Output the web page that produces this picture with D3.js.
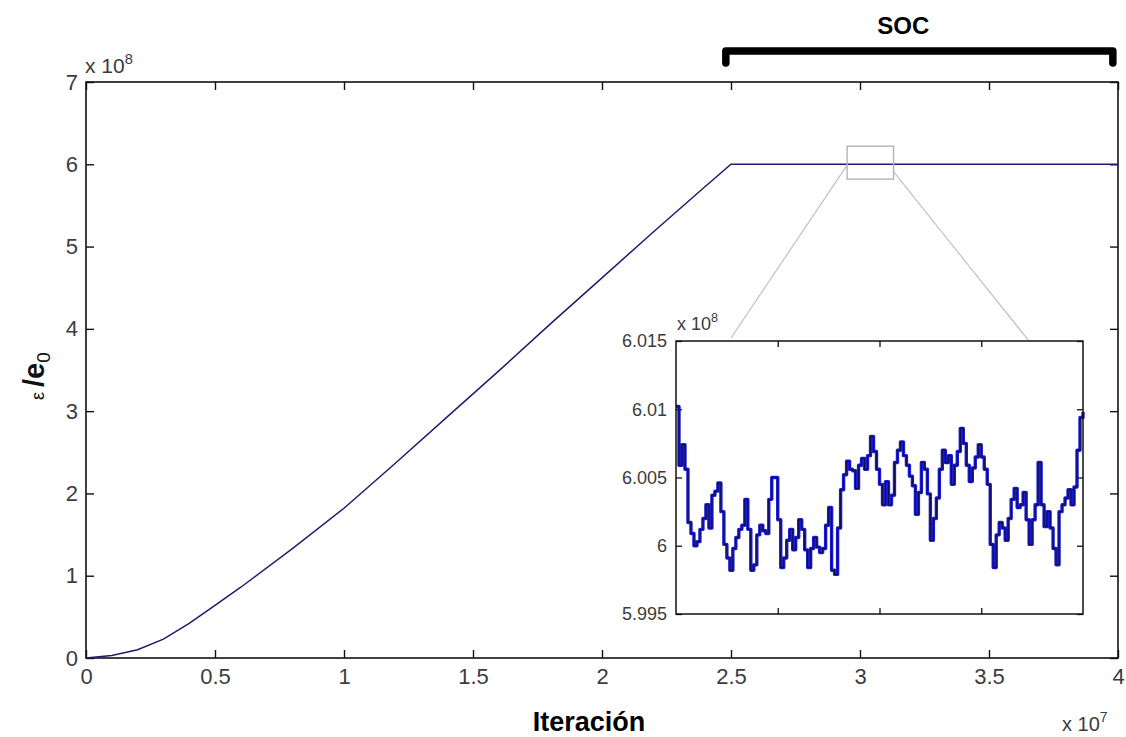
<!DOCTYPE html>
<html lang="es">
<head>
<meta charset="UTF-8">
<title>SOC - energía vs iteración</title>
<script src="https://cdnjs.cloudflare.com/ajax/libs/d3/7.8.5/d3.min.js"></script>
<style>
    body { margin: 0; background: #fff; }
    svg { display: block; font-family: "Liberation Sans", Arial, sans-serif; }
    .tick text { fill: #3c3c3c; }
</style>
</head>
<body>
<div id="chart"></div>
<script>
// main curve: iteration (x 1e7) vs energy (x 1e8)
const iterations = [0, 0.1, 0.2, 0.3, 0.4, 0.5, 0.6, 0.8, 1.0, 1.2, 1.4, 1.6, 1.8, 2.0, 2.2, 2.4, 2.5, 2.8, 3.1, 3.4, 3.7, 4.0];
const energy = [0, 0.03, 0.1, 0.23, 0.42, 0.64, 0.86, 1.33, 1.82, 2.37, 2.93, 3.49, 4.06, 4.62, 5.18, 5.73, 6.0, 6.0, 6.0, 6.0, 6.0, 6.0];

const xTicks = [0, 0.5, 1, 1.5, 2, 2.5, 3, 3.5, 4];
const yTicks = [0, 1, 2, 3, 4, 5, 6, 7];

// zoomed window in the SOC regime (x 1e8)
const insetStart = 2.95, insetEnd = 3.13;
const insetYTicks = [5.995, 6, 6.005, 6.01, 6.015];
const insetXTicks = [2.995, 3.04, 3.085];
const insetEnergy = [
    6.0102, 6.0059, 6.0074, 6.0056, 6.0017, 6.0009, 6.0000, 6.0003, 6.0012, 6.0020,
    6.0030, 6.0013, 6.0037, 6.0040, 6.0046, 6.0025, 6.0001, 5.9991, 5.9982, 5.9998,
    6.0006, 6.0012, 6.0015, 6.0034, 6.0012, 5.9982, 5.9986, 6.0008, 6.0015, 6.0011,
    6.0009, 6.0034, 6.0050, 6.0050, 6.0019, 5.9984, 5.9991, 6.0004, 6.0012, 5.9997,
    6.0006, 6.0019, 6.0012, 5.9997, 5.9984, 5.9998, 6.0006, 5.9999, 5.9995, 5.9998,
    6.0015, 6.0028, 5.9982, 5.9979, 6.0013, 6.0041, 6.0052, 6.0062, 6.0056, 6.0055,
    6.0042, 6.0059, 6.0064, 6.0056, 6.0066, 6.0080, 6.0069, 6.0056, 6.0045, 6.0030,
    6.0047, 6.0030, 6.0037, 6.0061, 6.0070, 6.0076, 6.0066, 6.0059, 6.0051, 6.0044,
    6.0023, 6.0039, 6.0061, 6.0056, 6.0038, 6.0004, 6.0020, 6.0035, 6.0056, 6.0070,
    6.0061, 6.0066, 6.0045, 6.0059, 6.0069, 6.0086, 6.0075, 6.0059, 6.0047, 6.0057,
    6.0065, 6.0074, 6.0065, 6.0056, 6.0045, 6.0001, 5.9984, 6.0008, 6.0017, 6.0013,
    6.0004, 6.0020, 6.0034, 6.0042, 6.0028, 6.0030, 6.0039, 6.0019, 6.0001, 6.0019,
    6.0030, 6.0061, 6.0030, 6.0014, 6.0025, 6.0013, 5.9998, 5.9986, 6.0025, 6.0030,
    6.0035, 6.0041, 6.0030, 6.0043, 6.0070, 6.0094, 6.0098
];
const zoomBoxY = [5.82, 6.22];
const socRange = [2.48, 3.98];

const W = 1126, H = 737;
const svg = d3.select("#chart").append("svg")
    .attr("width", W).attr("height", H);

const m = { left: 86, right: 1118, top: 82, bottom: 658 };
const x = d3.scaleLinear().domain([0, 4]).range([m.left, m.right]);
const y = d3.scaleLinear().domain([0, 7]).range([m.bottom, m.top]);

const fmt = d => String(d);
const tickLen = 8;

svg.append("g")
    .attr("transform", `translate(0,${m.bottom})`)
    .call(d3.axisBottom(x).tickValues(xTicks).tickFormat(fmt).tickSizeInner(-tickLen).tickSizeOuter(0).tickPadding(10))
    .call(g => g.select(".domain").remove())
    .call(g => g.selectAll("text").attr("font-size", 22).attr("font-family", "Liberation Sans, Arial"));

svg.append("g")
    .attr("transform", `translate(0,${m.top})`)
    .call(d3.axisTop(x).tickValues(xTicks).tickFormat("").tickSizeInner(-tickLen).tickSizeOuter(0))
    .call(g => g.select(".domain").remove());

svg.append("g")
    .attr("transform", `translate(${m.left},0)`)
    .call(d3.axisLeft(y).tickValues(yTicks).tickFormat(fmt).tickSizeInner(-tickLen).tickSizeOuter(0).tickPadding(8))
    .call(g => g.select(".domain").remove())
    .call(g => g.selectAll("text").attr("font-size", 22).attr("font-family", "Liberation Sans, Arial"));

svg.append("g")
    .attr("transform", `translate(${m.right},0)`)
    .call(d3.axisRight(y).tickValues(yTicks).tickFormat("").tickSizeInner(-tickLen).tickSizeOuter(0))
    .call(g => g.select(".domain").remove());

svg.selectAll(".tick line").attr("stroke", "#111").attr("stroke-width", 1.4);

svg.append("rect")
    .attr("x", m.left).attr("y", m.top)
    .attr("width", m.right - m.left).attr("height", m.bottom - m.top)
    .attr("fill", "none").attr("stroke", "#111").attr("stroke-width", 1.6);

const mainLine = d3.line()
    .x((d, i) => x(iterations[i]))
    .y(d => y(d));

svg.append("path")
    .datum(energy)
    .attr("d", mainLine)
    .attr("fill", "none")
    .attr("stroke", "#1d1d6b")
    .attr("stroke-width", 1.5);

// exponent labels
const expo = (tx, ty, p, size) => {
    const t = svg.append("text").attr("x", tx).attr("y", ty)
        .attr("font-size", size).attr("fill", "#3c3c3c");
    t.append("tspan").text("x 10");
    t.append("tspan").text(p).attr("font-size", size * 0.7).attr("dy", -size * 0.45);
};
expo(85, 73, "8", 21);
expo(1062, 731, "7", 20);

// zoom box and connectors
const zx0 = x(insetStart), zx1 = x(insetEnd);
const zy0 = y(zoomBoxY[1]), zy1 = y(zoomBoxY[0]);
svg.append("rect")
    .attr("x", zx0).attr("y", zy0)
    .attr("width", zx1 - zx0).attr("height", zy1 - zy0)
    .attr("fill", "none").attr("stroke", "#b4b4b4").attr("stroke-width", 1.4);

const ins = { left: 676, right: 1083, top: 341, bottom: 614 };

svg.append("line")
    .attr("x1", zx0).attr("y1", y(5.99))
    .attr("x2", ins.left + 55).attr("y2", ins.top - 3)
    .attr("stroke", "#bdbdbd").attr("stroke-width", 1.1);
svg.append("line")
    .attr("x1", zx1).attr("y1", y(5.91))
    .attr("x2", ins.right - 50).attr("y2", ins.top + 5)
    .attr("stroke", "#bdbdbd").attr("stroke-width", 1.1);

// SOC bracket
const sx0 = x(socRange[0]), sx1 = x(socRange[1]);
svg.append("path")
    .attr("d", `M${sx0},63 V51 H${sx1} V63`)
    .attr("fill", "none").attr("stroke", "#000").attr("stroke-width", 7.5)
    .attr("stroke-linecap", "round").attr("stroke-linejoin", "round");
svg.append("text")
    .attr("x", (sx0 + sx1) / 2 - 16).attr("y", 34)
    .attr("text-anchor", "middle").attr("font-size", 24).attr("font-weight", "bold")
    .text("SOC");

// inset
const ix = d3.scaleLinear().domain([insetStart, insetEnd]).range([ins.left, ins.right]);
const iy = d3.scaleLinear().domain([5.995, 6.015]).range([ins.bottom, ins.top]);
const sampleIter = d3.scaleLinear().domain([0, insetEnergy.length - 1]).range([insetStart, insetEnd]);

svg.append("rect")
    .attr("x", ins.left).attr("y", ins.top)
    .attr("width", ins.right - ins.left).attr("height", ins.bottom - ins.top)
    .attr("fill", "#fff");

const iTick = 6;
const inset = svg.append("g");
inset.append("g")
    .attr("transform", `translate(${ins.left},0)`)
    .call(d3.axisLeft(iy).tickValues(insetYTicks).tickFormat(fmt).tickSizeInner(-iTick).tickSizeOuter(0).tickPadding(9))
    .call(g => g.select(".domain").remove())
    .call(g => g.selectAll("text").attr("font-size", 18).attr("font-family", "Liberation Sans, Arial"));
inset.append("g")
    .attr("transform", `translate(${ins.right},0)`)
    .call(d3.axisRight(iy).tickValues(insetYTicks).tickFormat("").tickSizeInner(-iTick).tickSizeOuter(0))
    .call(g => g.select(".domain").remove());
inset.append("g")
    .attr("transform", `translate(0,${ins.top})`)
    .call(d3.axisTop(ix).tickValues(insetXTicks).tickFormat("").tickSizeInner(-iTick).tickSizeOuter(0))
    .call(g => g.select(".domain").remove());
inset.append("g")
    .attr("transform", `translate(0,${ins.bottom})`)
    .call(d3.axisBottom(ix).tickValues(insetXTicks).tickFormat("").tickSizeInner(-iTick).tickSizeOuter(0))
    .call(g => g.select(".domain").remove());
inset.selectAll(".tick line").attr("stroke", "#111").attr("stroke-width", 1.3);

const insetLine = d3.line()
    .x((d, i) => ix(sampleIter(i)))
    .y(d => iy(d))
    .curve(d3.curveStepAfter);

inset.append("path")
    .datum(insetEnergy)
    .attr("d", insetLine)
    .attr("fill", "none").attr("stroke", "#1b1bd6").attr("stroke-width", 3.4)
    .attr("stroke-linejoin", "round");
inset.append("path")
    .datum(insetEnergy)
    .attr("d", insetLine)
    .attr("fill", "none").attr("stroke", "#0d0d45").attr("stroke-width", 1);

inset.append("rect")
    .attr("x", ins.left).attr("y", ins.top)
    .attr("width", ins.right - ins.left).attr("height", ins.bottom - ins.top)
    .attr("fill", "none").attr("stroke", "#111").attr("stroke-width", 1.5);

expo(677, 330, "8", 18);

// axis titles
svg.append("text")
    .attr("x", 589).attr("y", 731)
    .attr("text-anchor", "middle").attr("font-size", 27).attr("font-weight", "bold")
    .text("Iteración");

const yl = svg.append("text")
    .attr("transform", "translate(44,400) rotate(-90)")
    .attr("fill", "#111");
yl.append("tspan").text("ε ").attr("font-size", 18);
yl.append("tspan").text("/e").attr("font-size", 29).attr("font-weight", "bold");
yl.append("tspan").text("0").attr("font-size", 19).attr("dy", 6);
</script>
</body>
</html>
